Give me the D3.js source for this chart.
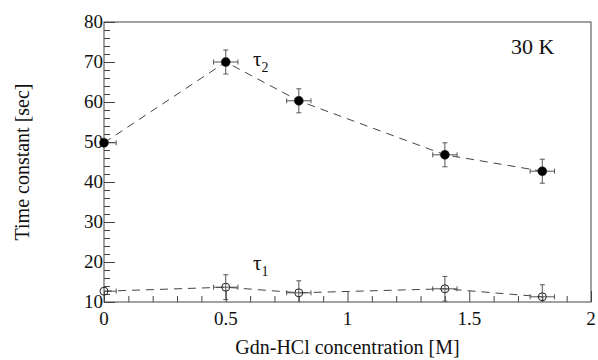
<!DOCTYPE html>
<html><head><meta charset="utf-8">
<script src="https://cdn.jsdelivr.net/npm/d3@7"></script>
<style>body{margin:0;background:#fff}svg{display:block}</style>
</head><body>
<svg id="c" width="598" height="360"></svg>
<script>
const conc = [0, 0.5, 0.8, 1.4, 1.8];
const concErr = [0.05, 0.05, 0.05, 0.05, 0.05];
const tau2 = [49.8, 70.0, 60.3, 46.8, 42.7];
const tau2Err = [0, 3.0, 3.0, 3.0, 3.0];
const tau1 = [12.7, 13.7, 12.3, 13.3, 11.3];
const tau1Err = [0, 3.1, 3.0, 3.1, 3.0];
const xTicks = [0, 0.5, 1, 1.5, 2];
const yTicks = [10, 20, 30, 40, 50, 60, 70, 80];

const svg = d3.select("#c");
const L = 104, R = 591, T = 22, B = 302;
const x = d3.scaleLinear().domain([0, 2]).range([L, R]);
const y = d3.scaleLinear().domain([10, 80]).range([B, T]);
const font = "Liberation Serif, Times New Roman, serif";
const axisCol = "#444";

svg.append("defs").append("clipPath").attr("id", "clip")
  .append("rect").attr("x", L).attr("y", T).attr("width", R - L).attr("height", B - T);

// frame
svg.append("rect").attr("x", L).attr("y", T).attr("width", R - L).attr("height", B - T)
  .attr("fill", "none").attr("stroke", axisCol).attr("stroke-width", 1);

// y ticks (inside)
const yAxis = d3.axisRight(y).tickValues(d3.range(10, 80.01, 2)).tickSize(6).tickFormat("");
const gy = svg.append("g").attr("transform", `translate(${L},0)`).call(yAxis);
gy.select(".domain").remove();
gy.selectAll(".tick line").attr("stroke", axisCol)
  .attr("x2", d => (Math.round(d) % 10 === 0 ? 11 : 6));
svg.append("g").selectAll("text").data(yTicks).join("text")
  .attr("x", L - 1).attr("y", d => y(d) + 6).attr("text-anchor", "end")
  .attr("font-family", font).attr("font-size", 19).attr("fill", "#111").text(d => d);

// x ticks (inside)
const xAxis = d3.axisTop(x).tickValues(d3.range(0, 2.001, 0.1)).tickSize(6).tickFormat("");
const gx = svg.append("g").attr("transform", `translate(0,${B})`).call(xAxis);
gx.select(".domain").remove();
gx.selectAll(".tick line").attr("stroke", axisCol)
  .attr("y2", d => (Math.abs(d * 2 - Math.round(d * 2)) < 1e-6 ? -11 : -6));
svg.append("g").selectAll("text").data(xTicks).join("text")
  .attr("x", d => x(d)).attr("y", 325).attr("text-anchor", "middle")
  .attr("font-family", font).attr("font-size", 19).attr("fill", "#111").text(d => d);

// axis labels
svg.append("text").attr("x", x(1)).attr("y", 354).attr("text-anchor", "middle")
  .attr("font-family", font).attr("font-size", 20).attr("fill", "#111")
  .text("Gdn-HCl concentration [M]");
svg.append("text").attr("transform", `translate(29,${(T + B) / 2}) rotate(-90)`)
  .attr("text-anchor", "middle").attr("font-family", font).attr("font-size", 20).attr("fill", "#111")
  .text("Time constant [sec]");

const plot = svg.append("g").attr("clip-path", "url(#clip)");

function series(vals, errs, filled) {
  const pts = conc.map((c, i) => ({ c, v: vals[i], e: errs[i], ce: concErr[i] }));
  const line = d3.line().x(d => x(d.c)).y(d => y(d.v));
  plot.append("path").datum(pts).attr("d", line).attr("fill", "none")
    .attr("stroke", "#444").attr("stroke-width", 1).attr("stroke-dasharray", "8,6");
  const g = plot.append("g").attr("stroke", "#555").attr("stroke-width", 1);
  pts.forEach(d => {
    const cx = x(d.c), cy = y(d.v);
    g.append("line").attr("x1", x(d.c - d.ce)).attr("x2", x(d.c + d.ce)).attr("y1", cy).attr("y2", cy);
    g.append("line").attr("x1", x(d.c - d.ce)).attr("x2", x(d.c - d.ce)).attr("y1", cy - 2.5).attr("y2", cy + 2.5);
    g.append("line").attr("x1", x(d.c + d.ce)).attr("x2", x(d.c + d.ce)).attr("y1", cy - 2.5).attr("y2", cy + 2.5);
    if (d.e > 0) {
      g.append("line").attr("x1", cx).attr("x2", cx).attr("y1", y(d.v - d.e)).attr("y2", y(d.v + d.e));
      g.append("line").attr("x1", cx - 2.5).attr("x2", cx + 2.5).attr("y1", y(d.v + d.e)).attr("y2", y(d.v + d.e));
      g.append("line").attr("x1", cx - 2.5).attr("x2", cx + 2.5).attr("y1", y(d.v - d.e)).attr("y2", y(d.v - d.e));
    }
  });
  svg.append("g").selectAll("circle").data(pts).join("circle")
    .attr("cx", d => x(d.c)).attr("cy", d => y(d.v))
    .attr("r", filled ? 4.5 : 4)
    .attr("fill", filled ? "#000" : "none")
    .attr("stroke", "#222").attr("stroke-width", filled ? 0.5 : 1);
}
series(tau2, tau2Err, true);
series(tau1, tau1Err, false);

// labels
function tauLabel(px, py, sub) {
  const t = svg.append("text").attr("x", px).attr("y", py)
    .attr("font-family", font).attr("font-size", 21).attr("fill", "#111");
  t.append("tspan").text("τ");
  t.append("tspan").attr("dy", 6).attr("font-size", 14).text(sub);
}
tauLabel(253, 66, "2");
tauLabel(253, 270, "1");
svg.append("text").attr("x", 511).attr("y", 54).attr("font-family", font)
  .attr("font-size", 22).attr("fill", "#111").text("30 K");
</script>
</body></html>
